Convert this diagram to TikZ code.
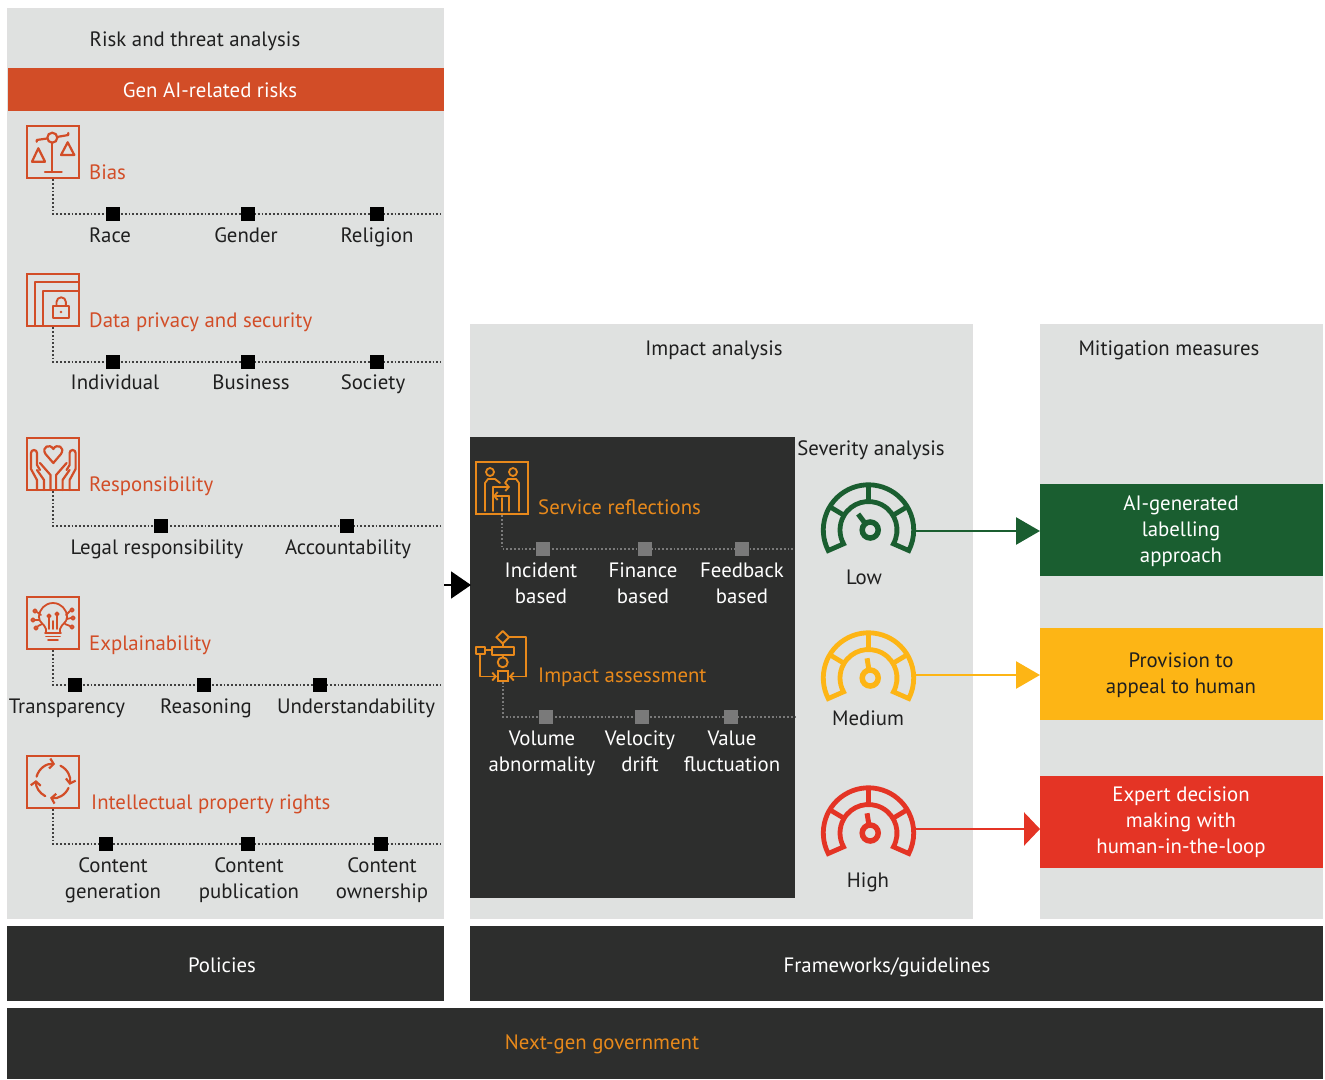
\documentclass[tikz,border=0pt]{standalone}
\usepackage{fontspec}
\setmainfont{PT Sans}
\usetikzlibrary{arrows.meta}
\definecolor{panel}{HTML}{DFE1E0}
\definecolor{darkp}{HTML}{2D2E2D}
\definecolor{rust}{HTML}{D24D27}
\definecolor{amberx}{HTML}{E8891B}
\definecolor{greenx}{HTML}{1A5E30}
\definecolor{yellowx}{HTML}{FDB515}
\definecolor{redx}{HTML}{E43425}
\definecolor{greyx}{HTML}{7A7A7A}
\tikzset{
  x=1pt,y=-1pt,
  lbl/.style={font=\fontsize{20.8}{26}\selectfont,align=center,text=black!88,inner sep=0pt,yshift=-1.8pt,execute at begin node={\strut},execute at end node={\strut}},
  wlbl/.style={lbl,text=white},
  rlbl/.style={lbl,text=rust,anchor=west},
  albl/.style={lbl,text=amberx,anchor=west},
  pan/.style={fill=panel,draw=black!12,line width=.4pt,anchor=north west,inner sep=0pt,outer sep=0pt},
  dpan/.style={fill=darkp,draw=none,anchor=north west,inner sep=0pt,outer sep=0pt},
  fpan/.style={anchor=north west,inner sep=0pt,outer sep=0pt},
  ibox/.style={draw=rust,line width=2.2pt,minimum width=52pt,minimum height=52pt,anchor=north west,inner sep=0pt},
  abox/.style={draw=amberx,line width=2.2pt,minimum width=52pt,minimum height=52pt,anchor=north west,inner sep=0pt},
  sq/.style={fill=black,minimum size=14pt,inner sep=0pt},
  gsq/.style={fill=greyx,minimum size=14pt,inner sep=0pt},
  dotl/.style={line width=1.4pt,draw=black!75,dash pattern=on 1.8pt off 2pt},
  gdotl/.style={line width=1.3pt,draw=greyx,dash pattern=on 1.8pt off 2pt},
  ico/.style={line width=2.2pt,line join=round,line cap=round},
  arr/.style={line width=2.7pt},
}
\newcommand{\mygauge}[4]{%
 \begin{scope}[shift={(#1,#2)},draw=#3,line width=4.8pt]
  \draw (207:45.2pt) arc[start angle=207,end angle=-27,radius=45.2pt] -- (-29:28.5pt) arc[start angle=-29,end angle=209,radius=28.5pt] -- cycle;
  \draw (90:45.2pt) -- (90:28.5pt) (31:45.2pt) -- (31:28.5pt) (149:45.2pt) -- (149:28.5pt);
  \begin{scope}[shift={(1.7,0)}]
  \draw[line width=5.5pt] (0,0) circle[radius=8pt];
  \draw[line width=5pt] (#4:8pt) -- (#4:20pt);
  \end{scope}
 \end{scope}}
\begin{document}
\begin{tikzpicture}
\useasboundingbox (0,0) rectangle (1325,1079);
% panels
\node[pan,minimum width=436.5pt,minimum height=910.5pt] (riskp) at (7,8) {};
\node[pan,minimum width=502.5pt,minimum height=594.5pt] (impp) at (470,324) {};
\node[pan,minimum width=282.5pt,minimum height=594.5pt] (mitp) at (1040,324) {};
\node[dpan,minimum width=325pt,minimum height=461pt] (darkp) at (470,437) {};
\node[fpan,fill=rust,minimum width=435.5pt,minimum height=43pt] (genb) at (8,68) {};
\node[dpan,minimum width=437pt,minimum height=75pt] (polb) at (7,926) {};
\node[dpan,minimum width=853pt,minimum height=75pt] (frb) at (470,926) {};
\node[dpan,minimum width=1316pt,minimum height=71pt] (ngb) at (7,1008) {};
\node[fpan,fill=greenx,minimum width=283pt,minimum height=92pt] (m1) at (1040,484) {};
\node[fpan,fill=yellowx,minimum width=283pt,minimum height=92pt] (m2) at (1040,628) {};
\node[fpan,fill=redx,minimum width=283pt,minimum height=92pt] (m3) at (1040,776) {};
% headings
\node[lbl] (t1) at (195,39) {Risk and threat analysis};
\node[wlbl] (t2) at (210,90.5) {Gen AI-related risks};
\node[lbl] (t3) at (714,348) {Impact analysis};
\node[lbl] (t4) at (1169,348) {Mitigation measures};
\node[lbl] (t5) at (871,448) {Severity analysis};
\node[wlbl] (t6) at (222,965) {Policies};
\node[wlbl] (t7) at (887,965) {Frameworks/guidelines};
\node[lbl,text=amberx] (t8) at (602,1042.5) {Next-gen government};
\node[wlbl] (t9) at (1181,531) {AI-generated\\labelling\\approach};
\node[lbl] (t10) at (1181,675) {Provision to\\appeal to human};
\node[wlbl] (t11) at (1181,822) {Expert decision\\making with\\human-in-the-loop};
% Bias
\node[ibox] (ib1) at (26,125) {};
\node[rlbl] (r1) at (89,172.5) {Bias};
\begin{scope}[shift={(26,125)},rust,ico]
 \draw (26.3,12.7) circle[radius=5pt];
 \draw (10.7,16.7) -- (10.7,15) -- (21,13.5) (32,11.8) -- (42.3,10) -- (42.3,8);
 \draw (26.3,18) -- (26.3,47) (19,47.3) -- (35.7,47.3);
 \draw (12.3,23.3) -- (6,36.7) -- (19,36.7) -- cycle (41.7,17.3) -- (35,30) -- (48.3,30) -- cycle;
\end{scope}
\coordinate (e1) at (441,214);
\draw[dotl] (ib1.south) |- (e1);
\node[sq] (s11) at (113,214) {};\node[sq] (s12) at (248,214) {};\node[sq] (s13) at (377,214) {};
\node[lbl] (l11) at (110,235) {Race};\node[lbl] (l12) at (246,235) {Gender};\node[lbl] (l13) at (377,235) {Religion};
% Data privacy
\node[ibox] (ib2) at (26,273) {};
\node[rlbl] (r2) at (89,320) {Data privacy and security};
\begin{scope}[shift={(26,273)},rust,ico,line cap=butt,line width=1.9pt]
 \draw (9,53) -- (9,9) -- (53,9) (17.3,53) -- (17.3,17.7) -- (53,17.7);
 \draw (26.7,33.3) rectangle (43.3,45);
 \draw (30.5,33.3) -- (30.5,29) arc[start angle=180,end angle=0,radius=4.7pt] -- (39.9,33.3);
 \fill (35,39) circle[radius=1.3pt];
\end{scope}
\coordinate (e2) at (441,362);
\draw[dotl] (ib2.south) |- (e2);
\node[sq] (s21) at (113,362) {};\node[sq] (s22) at (248,362) {};\node[sq] (s23) at (377,362) {};
\node[lbl] (l21) at (115,382.5) {Individual};\node[lbl] (l22) at (251,382.5) {Business};\node[lbl] (l23) at (373,382.5) {Society};
% Responsibility
\node[ibox] (ib3) at (26,437) {};
\node[rlbl] (r3) at (89,484.5) {Responsibility};
\begin{scope}[shift={(26,437)},rust,ico]
 \draw (27.3,26) -- (19.5,17) .. controls (15,10) and (24,6) .. (27.3,12) .. controls (30.6,6) and (39.6,10) .. (35,17) -- cycle;
 \foreach \m/\o in {1/0,-1/54.6}{
 \begin{scope}[xshift=\o pt,xscale=\m]
  \draw (11,53) -- (11,43) -- (5,32) -- (5,16) arc[start angle=180,end angle=0,radius=3pt] -- (11,28) -- (14,33);
  \draw (14,26) -- (24.5,38) -- (24.5,53) (18,53) -- (18,43) -- (11,33);
 \end{scope}}
\end{scope}
\coordinate (e3) at (441,526);
\draw[dotl] (ib3.south) |- (e3);
\node[sq] (s31) at (161,526) {};\node[sq] (s32) at (347,526) {};
\node[lbl] (l31) at (157,547) {Legal responsibility};\node[lbl] (l32) at (348,547) {Accountability};
% Explainability
\node[ibox] (ib4) at (26,596) {};
\node[rlbl] (r4) at (89,643.5) {Explainability};
\begin{scope}[shift={(26,596)},rust,ico,line width=1.8pt]
 \draw (20,37) -- (20,33) .. controls (18,27) and (13,27) .. (13,21) arc[start angle=180,end angle=0,radius=14pt] .. controls (41,27) and (36,27) .. (34,33) -- (34,37);
 \draw (19,37) -- (35,37) (20,40.5) -- (34,40.5) (22,44) -- (32,44);
 \draw (23,33) -- (23,20) (31,33) -- (31,20) (27,33) -- (27,25) (23,20) circle[radius=1.7pt] (31,18) circle[radius=1.7pt];
 \draw (9,15) circle[radius=1.8pt] (7,24) circle[radius=1.8pt] (10,32) circle[radius=1.8pt] (46,14) circle[radius=1.8pt] (47,22) circle[radius=1.8pt] (46,31) circle[radius=1.8pt];
 \draw (11,16) -- (15,19) (9,24) -- (13,24) (12,30) -- (16,28) (44,15) -- (40,19) (45,22) -- (41,23) (44,30) -- (39,28);
\end{scope}
\coordinate (e4) at (441,685);
\draw[dotl] (ib4.south) |- (e4);
\node[sq] (s41) at (75,685) {};\node[sq] (s42) at (204,685) {};\node[sq] (s43) at (320,685) {};
\node[lbl] (l41) at (67,706) {Transparency};\node[lbl] (l42) at (206,706) {Reasoning};\node[lbl] (l43) at (356,706) {Understandability};
% IP
\node[ibox] (ib5) at (26,755) {};
\node[rlbl] (r5) at (91,802.5) {Intellectual property rights};
\begin{scope}[shift={(53,781)},rust,ico,-{Straight Barb[length=4pt,width=10pt]}]
 \draw (165:17pt) arc[start angle=165,end angle=83,radius=17pt];
 \draw (64:17pt) arc[start angle=64,end angle=-13,radius=17pt];
 \draw (-24:17pt) arc[start angle=-24,end angle=-100,radius=17pt];
 \draw (243:17pt) arc[start angle=243,end angle=177,radius=17pt];
\end{scope}
\coordinate (e5) at (441,844);
\draw[dotl] (ib5.south) |- (e5);
\node[sq] (s51) at (106,844) {};\node[sq] (s52) at (248,844) {};\node[sq] (s53) at (381,844) {};
\node[lbl] (l51) at (113,880) {Content\\generation};\node[lbl] (l52) at (249,880) {Content\\publication};\node[lbl] (l53) at (382,880) {Content\\ownership};
% big arrow
\coordinate (a0) at (444,585);
\coordinate (a1) at (471,585);
\draw[line width=2pt,black,-{Triangle[length=20pt,width=27pt]}] (a0) -- (a1);
% Service reflections
\node[abox] (ib6) at (475,461) {};
\node[albl] (r6) at (538,507.5) {Service reflections};
\begin{scope}[shift={(475,461)},amberx,ico,line width=1.8pt]
 \draw (15,11) circle[radius=4pt] (38,11) circle[radius=4pt];
 \draw (10,50) -- (10,22) -- (13,18) -- (20,18) -- (25,22);
 \draw (44,50) -- (44,22) -- (41,18) -- (33,18) -- (30,22);
 \draw (18,50) -- (18,26) (34,50) -- (34,35) (27,50) -- (27,37);
 \draw[-{Straight Barb[length=3.5pt,width=8pt]}] (18,26) -- (35,26);
 \draw[-{Straight Barb[length=3.5pt,width=8pt]}] (34,35) -- (18,35);
\end{scope}
\coordinate (e6) at (795,549);
\draw[gdotl] (ib6.south) |- (e6);
\node[gsq] (s61) at (543,549) {};\node[gsq] (s62) at (645,549) {};\node[gsq] (s63) at (742,549) {};
\node[wlbl] (l61) at (541,585) {Incident\\based};\node[wlbl] (l62) at (643,585) {Finance\\based};\node[wlbl] (l63) at (742,585) {Feedback\\based};
% Impact assessment
\node[albl] (r7) at (538,675.5) {Impact assessment};
\node[draw=amberx,line width=1.9pt,minimum size=9.5pt,inner sep=0pt] (imp) at (503,676) {};
\begin{scope}[amberx,ico,line width=1.9pt]
 \draw (502.7,631) -- (509,637.3) -- (502.7,643.5) -- (496.4,637.3) -- cycle;
 \draw (492.3,646.7) rectangle (514,655) (475.7,646.7) rectangle (485,654);
 \draw (485,650) -- (492.3,650) (502.7,643.5) -- (502.7,646.7) (502.7,655) -- (502.7,657);
 \draw (502.7,662.3) circle[radius=5pt];
 \draw (509,637.3) -- (526,637.3) -- (526,676.5);
 \draw[-{Straight Barb[length=3.5pt,width=8pt]}] (526,676.5) -- (509,676.5);
 \draw[-{Straight Barb[length=3.5pt,width=8pt]}] (480,654) -- (480,676.5) -- (497,676.5);
\end{scope}
\coordinate (e7) at (795,717);
\draw[gdotl] (imp.south) |- (e7);
\node[gsq] (s71) at (546,717) {};\node[gsq] (s72) at (642,717) {};\node[gsq] (s73) at (731,717) {};
\node[wlbl] (l71) at (542,753) {Volume\\abnormality};\node[wlbl] (l72) at (640,753) {Velocity\\drift};\node[wlbl] (l73) at (732,753) {Value\\fluctuation};
% Gauges
\mygauge{868.5}{530}{greenx}{127}
\mygauge{868.5}{678}{yellowx}{99}
\mygauge{868.5}{833}{redx}{99}
\node[lbl] (g1) at (864,577.5) {Low};
\node[lbl] (g2) at (868,718) {Medium};
\node[lbl] (g3) at (868,880) {High};
\coordinate (g1c) at (916,531);\coordinate (g2c) at (916,675);\coordinate (g3c) at (916,829);
\draw[arr,greenx,-{Triangle[length=24pt,width=27pt]}] (g1c) -- (m1.west |- g1c);
\draw[arr,yellowx,-{Triangle[length=24pt,width=27pt]}] (g2c) -- (m2.west |- g2c);
\draw[arr,redx,-{Triangle[length=16pt,width=33pt]}] (g3c) -- (m3.west |- g3c);
\end{tikzpicture}
\end{document}
